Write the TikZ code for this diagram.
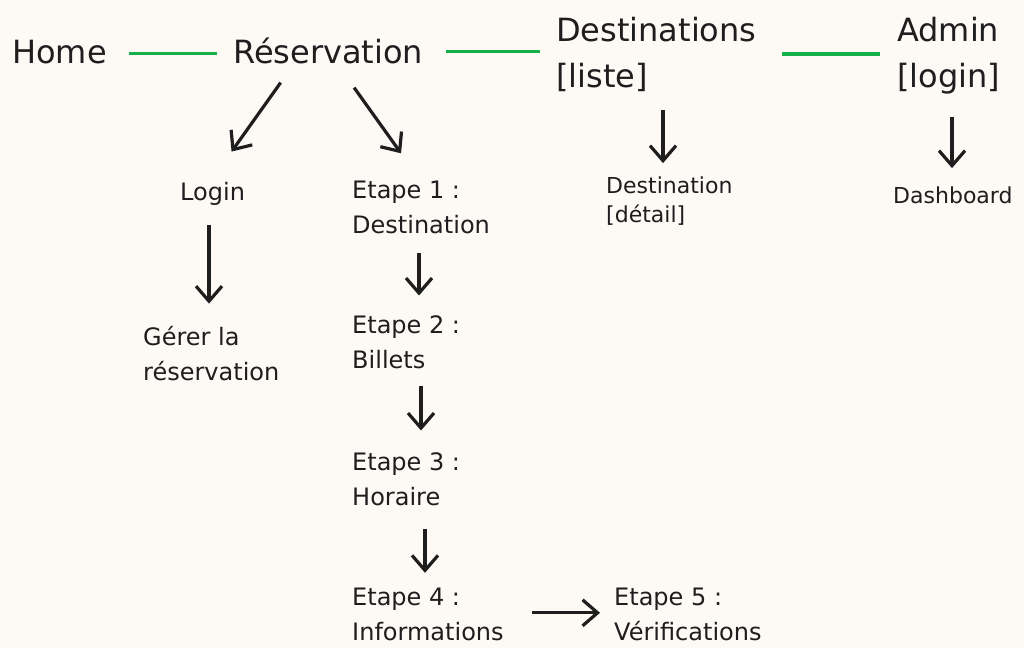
\documentclass[tikz,border=0pt]{standalone}
\usepackage{fontspec}
\setmainfont{DejaVu Sans}
\usetikzlibrary{arrows.meta}
\definecolor{bg}{RGB}{253,249,245}
\definecolor{ink}{RGB}{30,30,30}
\definecolor{lnk}{RGB}{20,176,72}
\begin{document}
\begin{tikzpicture}[x=1pt,y=-1pt,
  big/.style={font=\fontsize{32}{46}\selectfont, text=ink, inner sep=0pt, anchor=base west, align=left},
  small/.style={font=\fontsize{24}{35}\selectfont, text=ink, inner sep=0pt, anchor=base west, align=left},
  tiny/.style={font=\fontsize{22}{29}\selectfont, text=ink, inner sep=0pt, anchor=base west, align=left},
  link/.style={draw=lnk, line width=3.5pt},
  arr/.style={draw=ink, line width=3.2pt, -{Straight Barb[length=15pt,width=26pt]}}]
\fill[bg] (0,0) rectangle (1024,648);
\useasboundingbox (0,0) rectangle (1024,648);
% top row (anchor = baseline of the last line)
\node[big] (home)  at (12,63)  {Home};
\node[big] (resa)  at (233,63) {Réservation};
\node[big] (dests) at (556,87) {Destinations\\{[liste]}};
\node[big] (admin) at (897,87) {Admin\\{[login]}};
% second level
\node[small] (login) at (180,200) {Login};
\node[small] (gerer) at (143,380) {Gérer la\\réservation};
\node[small] (e1) at (352,233) {Etape 1 :\\Destination};
\node[small] (e2) at (352,368) {Etape 2 :\\Billets};
\node[small] (e3) at (352,505) {Etape 3 :\\Horaire};
\node[small] (e4) at (352,640) {Etape 4 :\\Informations};
\node[small] (e5) at (614,640) {Etape 5 :\\Vérifications};
\node[tiny] (destd) at (606,222) {Destination\\{[détail]}};
\node[tiny] (dash) at (893,203) {Dashboard};
% green links (horizontal)
\draw[link, shorten <=22pt, shorten >=16pt] ([yshift=-2pt]home.east) -- ([yshift=-2pt]home.east -| resa.west);
\draw[link, shorten <=23pt, shorten >=16pt] ([yshift=-1pt]resa.east) -- ([yshift=-1pt]resa.east -| dests.west);
\draw[link, shorten <=25pt, shorten >=17pt] (dests.east) -- (dests.east -| admin.west);
% arrows
\draw[arr] ([shift={(-47.5,19)}]resa.south) -- ([shift={(19,-30)}]login.north);
\draw[arr] ([shift={(26,24)}]resa.south) -- ([shift={(-20,-27)}]e1.north);
\draw[arr] ([shift={(29,20)}]login.south west) -- ([shift={(66,-22)}]gerer.north west);
\draw[arr] ([shift={(67,19)}]e1.south west) -- ([shift={(67,-19.5)}]e2.north west);
\draw[arr] ([shift={(69,17)}]e2.south west) -- ([shift={(69,-21.5)}]e3.north west);
\draw[arr] ([shift={(73,23)}]e3.south west) -- ([shift={(73,-14.5)}]e4.north west);
\draw[arr] ([shift={(180,25.5)}]e4.north west) -- ([shift={(-14,25.5)}]e5.north west);
\draw[arr] ([shift={(107,19)}]dests.south west) -- ([shift={(57,-13)}]destd.north west);
\draw[arr] ([shift={(55,23)}]admin.south west) -- ([shift={(59,-18)}]dash.north west);
\end{tikzpicture}
\end{document}
